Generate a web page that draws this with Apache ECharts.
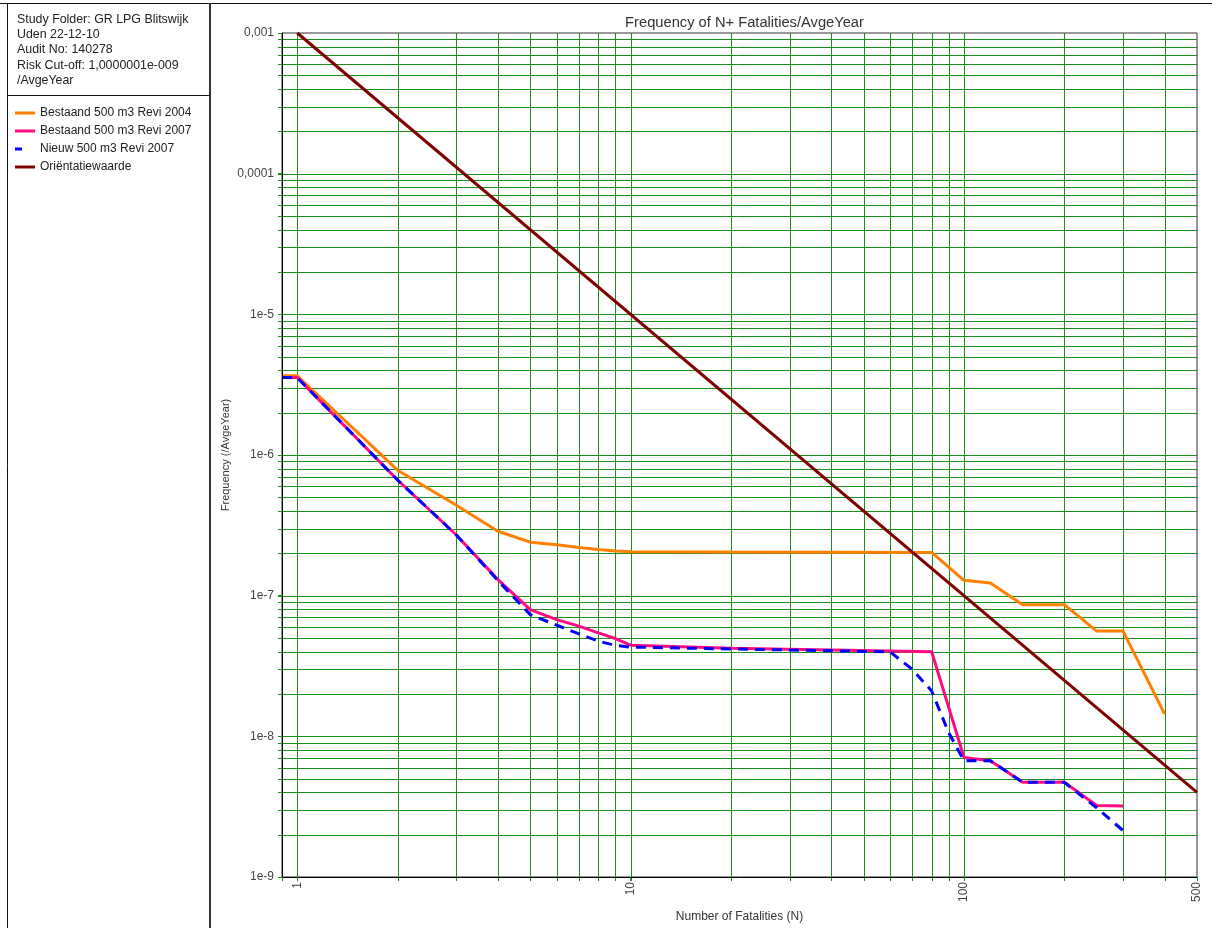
<!DOCTYPE html>
<html>
<head>
<meta charset="utf-8">
<script src="https://cdn.jsdelivr.net/npm/echarts@6/dist/echarts.min.js"></script>
<style>
html,body{margin:0;padding:0;background:#fff;}
#chart{width:1212px;height:928px;}
</style>
</head>
<body>
<div id="chart"></div>
<script>
// ---- data ----
const nOrange = [0.9, 1, 2, 3, 4, 5, 6, 7, 8, 9, 10, 20, 80, 100, 120, 150, 200, 250, 300, 400];
const fOrange = [3.66e-6, 3.66e-6, 7.8e-7, 4.39e-7, 2.87e-7, 2.40e-7, 2.30e-7, 2.20e-7, 2.13e-7, 2.08e-7, 2.05e-7, 2.04e-7, 2.03e-7, 1.285e-7, 1.23e-7, 8.63e-8, 8.63e-8, 5.6e-8, 5.6e-8, 1.44e-8];

const nPink = [0.9, 1, 2, 3, 4, 5, 6, 7, 8, 9, 10, 20, 80, 100, 120, 150, 200, 250, 300];
const fPink = [3.55e-6, 3.55e-6, 6.64e-7, 2.70e-7, 1.30e-7, 7.96e-8, 6.76e-8, 6.07e-8, 5.44e-8, 4.96e-8, 4.45e-8, 4.22e-8, 3.99e-8, 7.08e-9, 6.71e-9, 4.71e-9, 4.71e-9, 3.22e-9, 3.2e-9];

const nBlue = [0.9, 1, 2, 3, 4, 5, 6, 7, 8, 9, 10, 20, 60, 70, 80, 90, 100, 120, 150, 200, 250, 300];
const fBlue = [3.55e-6, 3.55e-6, 6.64e-7, 2.70e-7, 1.28e-7, 7.33e-8, 6.17e-8, 5.35e-8, 4.75e-8, 4.43e-8, 4.31e-8, 4.18e-8, 3.99e-8, 2.99e-8, 2.10e-8, 1.06e-8, 6.71e-9, 6.71e-9, 4.71e-9, 4.71e-9, 3.1e-9, 2.14e-9];

const nOrient = [1, 500];
const fOrient = [1e-3, 4e-9];

const seriesNames = ['Bestaand 500 m3 Revi 2004', 'Bestaand 500 m3 Revi 2007', 'Nieuw 500 m3 Revi 2007', 'Oriëntatiewaarde'];
const seriesColors = ['#FF8000', '#FF0A80', '#0000FF', '#800000'];

// tick labels
const xLabelValues = [1, 10, 100, 500];
const xLabelTexts = ['1', '10', '100', '500'];
const yLabelValues = [1e-9, 1e-8, 1e-7, 1e-6, 1e-5, 1e-4, 1e-3];
const yLabelTexts = ['1e-9', '1e-8', '1e-7', '1e-6', '1e-5', '0,0001', '0,001'];

// grid line positions
const xGridValues = [1, 2, 3, 4, 5, 6, 7, 8, 9, 10, 20, 30, 40, 50, 60, 70, 80, 90, 100, 200, 300, 400];
const yGridValues = [
  2e-9, 3e-9, 4e-9, 5e-9, 6e-9, 7e-9, 8e-9, 9e-9,
  1e-8, 2e-8, 3e-8, 4e-8, 5e-8, 6e-8, 7e-8, 8e-8, 9e-8,
  1e-7, 2e-7, 3e-7, 4e-7, 5e-7, 6e-7, 7e-7, 8e-7, 9e-7,
  1e-6, 2e-6, 3e-6, 4e-6, 5e-6, 6e-6, 7e-6, 8e-6, 9e-6,
  1e-5, 2e-5, 3e-5, 4e-5, 5e-5, 6e-5, 7e-5, 8e-5, 9e-5,
  1e-4, 2e-4, 3e-4, 4e-4, 5e-4, 6e-4, 7e-4, 8e-4, 9e-4
];

const infoText = 'Study Folder: GR LPG Blitswijk\nUden 22-12-10\nAudit No: 140278\nRisk Cut-off: 1,0000001e-009\n/AvgeYear';

// ---- helpers ----
function pairs(xs, ys) { return xs.map((x, i) => [x, ys[i]]); }
function matchLabel(v, values, texts) {
  for (let i = 0; i < values.length; i++) {
    if (Math.abs(Math.log10(v) - Math.log10(values[i])) < 1e-6) return texts[i];
  }
  return '';
}

const FONT = '"Liberation Sans", Arial, sans-serif';
const GRID_GREEN = '#1a8f1a';
const STUB = 4;

const chart = echarts.init(document.getElementById('chart'), null, { renderer: 'canvas' });

const legendIcons = [
  'path://M0,0H20V3H0Z',
  'path://M0,0H20V3H0Z',
  'path://M0,0H7V3H0Z M19.95,2.95H20V3H19.95Z',
  'path://M0,0H20V3H0Z'
];

const frameGraphics = [
  { type: 'line', silent: true, shape: { x1: 0, y1: 3.5, x2: 1212, y2: 3.5 }, style: { stroke: '#111', lineWidth: 1 } },
  { type: 'line', silent: true, shape: { x1: 7.5, y1: 3, x2: 7.5, y2: 928 }, style: { stroke: '#111', lineWidth: 1 } },
  { type: 'line', silent: true, shape: { x1: 210, y1: 3, x2: 210, y2: 928 }, style: { stroke: '#333', lineWidth: 2 } },
  { type: 'line', silent: true, shape: { x1: 7, y1: 95.5, x2: 210, y2: 95.5 }, style: { stroke: '#111', lineWidth: 1 } },
  { type: 'text', silent: true, left: 17, top: 12,
    style: { text: infoText, font: '12.4px ' + FONT, fill: '#222', lineHeight: 15.2 } }
];

const option = {
  animation: false,
  backgroundColor: '#ffffff',
  textStyle: { fontFamily: FONT },
  title: {
    text: 'Frequency of N+ Fatalities/AvgeYear',
    left: 739.5,
    textAlign: 'center',
    top: 10,
    textStyle: { fontFamily: FONT, fontSize: 14.7, fontWeight: 'normal', color: '#333' }
  },
  legend: {
    orient: 'vertical',
    left: 10,
    top: 101,
    itemWidth: 20,
    itemHeight: 3,
    itemGap: 4,
    data: seriesNames.map((n, i) => ({ name: n, icon: legendIcons[i], itemStyle: { color: seriesColors[i] } })),
    textStyle: { fontFamily: FONT, fontSize: 12, color: '#222', lineHeight: 14 },
    selectedMode: false
  },
  grid: {
    left: 282, top: 33, right: 15, bottom: 48,
    show: true, borderColor: '#333', borderWidth: 1,
    containLabel: false
  },
  xAxis: {
    type: 'log',
    logBase: 10,
    min: 0.9,
    max: 500,
    z: 6,
    name: 'Number of Fatalities (N)',
    nameLocation: 'middle',
    nameGap: 34,
    nameMoveOverlap: false,
    nameTextStyle: { fontFamily: FONT, fontSize: 12, color: '#333' },
    axisLine: { show: true, onZero: false, lineStyle: { color: '#000', width: 1 } },
    axisTick: { show: true, length: STUB, lineStyle: { color: GRID_GREEN } },
    axisLabel: {
      rotate: 90,
      margin: 5,
      fontFamily: FONT, fontSize: 12, color: '#444',
      showMinLabel: true, showMaxLabel: true, hideOverlap: false,
      formatter: v => matchLabel(v, xLabelValues, xLabelTexts)
    },
    splitLine: { show: false },
    minorTick: { show: false },
    minorSplitLine: { show: false }
  },
  yAxis: {
    type: 'log',
    logBase: 10,
    min: 1e-9,
    max: 1e-3,
    z: 6,
    name: 'Frequency (/AvgeYear)',
    nameLocation: 'middle',
    nameGap: 51,
    nameMoveOverlap: false,
    nameTextStyle: { fontFamily: FONT, fontSize: 11, color: '#333' },
    axisLine: { show: true, onZero: false, lineStyle: { color: '#000', width: 1 } },
    axisTick: { show: true, length: STUB, lineStyle: { color: GRID_GREEN } },
    axisLabel: {
      margin: 8,
      fontFamily: FONT, fontSize: 12, color: '#444',
      showMinLabel: true, showMaxLabel: true, hideOverlap: false,
      formatter: v => matchLabel(v, yLabelValues, yLabelTexts)
    },
    splitLine: { show: false },
    minorTick: { show: false },
    minorSplitLine: { show: false }
  },
  graphic: frameGraphics,
  series: [
    {
      name: seriesNames[0], type: 'line', data: pairs(nOrange, fOrange),
      showSymbol: false, symbol: 'none', z: 3,
      lineStyle: { color: seriesColors[0], width: 3 }, itemStyle: { color: seriesColors[0] }
    },
    {
      name: seriesNames[1], type: 'line', data: pairs(nPink, fPink),
      showSymbol: false, symbol: 'none', z: 4,
      lineStyle: { color: seriesColors[1], width: 3 }, itemStyle: { color: seriesColors[1] }
    },
    {
      name: seriesNames[2], type: 'line', data: pairs(nBlue, fBlue),
      showSymbol: false, symbol: 'none', z: 5,
      lineStyle: { color: seriesColors[2], width: 3, type: [10, 7] }, itemStyle: { color: seriesColors[2] }
    },
    {
      name: seriesNames[3], type: 'line', data: pairs(nOrient, fOrient),
      showSymbol: false, symbol: 'none', z: 3,
      lineStyle: { color: seriesColors[3], width: 3 }, itemStyle: { color: seriesColors[3] }
    }
  ]
};
chart.setOption(option);

// grid lines placed through the chart's own log scales
(function addGridLines() {
  const px = v => chart.convertToPixel({ xAxisIndex: 0 }, v);
  const py = v => chart.convertToPixel({ yAxisIndex: 0 }, v);
  const pLeft = px(0.9), pRight = px(500), pTop = py(1e-3), pBottom = py(1e-9);
  const gridGraphics = [];
  xGridValues.forEach(v => {
    const x = Math.round(px(v)) + 0.5;
    gridGraphics.push({ type: 'line', silent: true, z: 1,
      shape: { x1: x, y1: pTop, x2: x, y2: pBottom + STUB },
      style: { stroke: GRID_GREEN, lineWidth: 1 } });
  });
  yGridValues.forEach(v => {
    const y = Math.round(py(v)) + 0.5;
    gridGraphics.push({ type: 'line', silent: true, z: 1,
      shape: { x1: pLeft - STUB, y1: y, x2: pRight, y2: y },
      style: { stroke: GRID_GREEN, lineWidth: 1 } });
  });
  chart.setOption({ graphic: frameGraphics.concat(gridGraphics) });
})();
</script>
</body>
</html>
